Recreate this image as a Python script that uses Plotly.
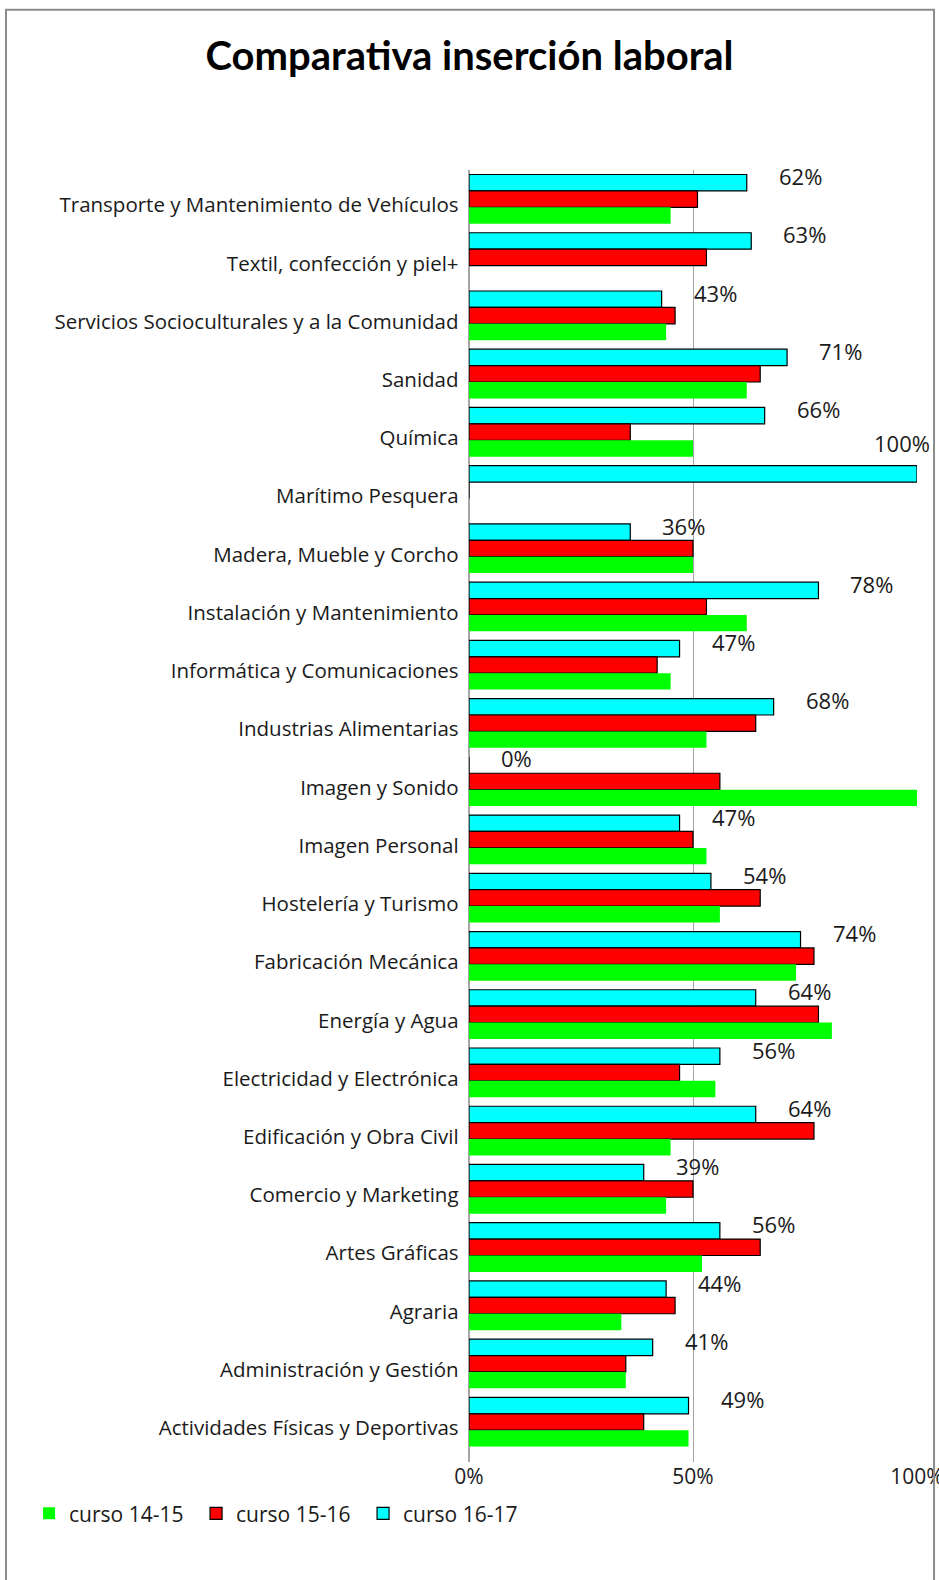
import plotly.graph_objects as go

categories = [
    "Transporte y Mantenimiento de Vehículos",
    "Textil, confección y piel+",
    "Servicios Socioculturales y a la Comunidad",
    "Sanidad",
    "Química",
    "Marítimo Pesquera",
    "Madera, Mueble y Corcho",
    "Instalación y Mantenimiento",
    "Informática y Comunicaciones",
    "Industrias Alimentarias",
    "Imagen y Sonido",
    "Imagen Personal",
    "Hostelería y Turismo",
    "Fabricación Mecánica",
    "Energía y Agua",
    "Electricidad y Electrónica",
    "Edificación y Obra Civil",
    "Comercio y Marketing",
    "Artes Gráficas",
    "Agraria",
    "Administración y Gestión",
    "Actividades Físicas y Deportivas",
]
curso_14_15 = [45, 0, 44, 62, 50, 0, 50, 62, 45, 53, 100, 53, 56, 73, 81, 55, 45, 44, 52, 34, 35, 49]
curso_15_16 = [51, 53, 46, 65, 36, 0, 50, 53, 42, 64, 56, 50, 65, 77, 78, 47, 77, 50, 65, 46, 35, 39]
curso_16_17 = [62, 63, 43, 71, 66, 100, 36, 78, 47, 68, 0, 47, 54, 74, 64, 56, 64, 39, 56, 44, 41, 49]

tick_values = [0, 50, 100]
tick_labels = ["0%", "50%", "100%"]

# drawn top-to-bottom within each group: cyan, red, green
series_names = ["curso 16-17", "curso 15-16", "curso 14-15"]
series_colors = ["#00FFFF", "#FF0000", "#00FF00"]
series_lines = [1.2, 1.2, 0]
series_values = [curso_16_17, curso_15_16, curso_14_15]

FONT = "Open Sans"
TXT = "#1a1a1a"

fig = go.Figure()
for name, col, lw, vals in zip(series_names, series_colors, series_lines, series_values):
    fig.add_trace(go.Bar(
        y=categories, x=vals, name=name, orientation="h",
        marker=dict(color=col, line=dict(color="black", width=lw)),
    ))

annotations = []
for cat, v in zip(categories, curso_16_17):
    if v >= 95:
        annotations.append(dict(x=v, y=cat, xref="x", yref="y", text=f"{v}%",
                                showarrow=False, xanchor="right", yshift=47, xshift=15,
                                font=dict(family=FONT, size=22, color=TXT)))
    else:
        annotations.append(dict(x=v, y=cat, xref="x", yref="y", text=f"{v}%",
                                showarrow=False, xanchor="left", yshift=23, xshift=30,
                                font=dict(family=FONT, size=22, color=TXT)))

fig.update_layout(
    width=939, height=1580,
    margin=dict(l=469, r=22, t=170, b=118, autoexpand=False),
    paper_bgcolor="white", plot_bgcolor="white",
    barmode="group", bargap=0.155, bargroupgap=0,
    font=dict(family=FONT, size=20, color=TXT),
    title=dict(text="<b>Comparativa inserción laboral</b>", x=0.5, xanchor="center",
               y=1 - 56 / 1580, yanchor="middle", xref="container", yref="container",
               font=dict(family="Lato", size=40, color="black")),
    showlegend=True,
    legend=dict(orientation="h", x=-0.982, xanchor="left", y=-0.04, yanchor="middle",
                font=dict(family=FONT, size=21, color=TXT), traceorder="reversed",
                entrywidth=122, entrywidthmode="pixels"),
    annotations=annotations,
    shapes=[dict(type="rect", xref="paper", yref="paper", x0=-1.0335, x1=1.038,
                 y0=-0.099, y1=1.124, line=dict(color="#8c8c8c", width=2))],
    xaxis=dict(range=[0, 100], tickvals=tick_values, ticktext=tick_labels,
               showgrid=True, gridcolor="#a6a6a6", gridwidth=1,
               zeroline=True, zerolinecolor="#a6a6a6", zerolinewidth=1,
               showline=False, ticks="", automargin=False, ticklabeloverflow="allow",
               tickfont=dict(family=FONT, size=21, color=TXT)),
    yaxis=dict(autorange="reversed", showgrid=False, ticks="", showline=True,
               linecolor="#a6a6a6", automargin=False, ticklabelshift=-6,
               tickfont=dict(family=FONT, size=20.5, color=TXT), ticksuffix=" "),
)

fig.write_html("out.html", post_script="document.body.style.margin='0';",
               config={"displayModeBar": False})
